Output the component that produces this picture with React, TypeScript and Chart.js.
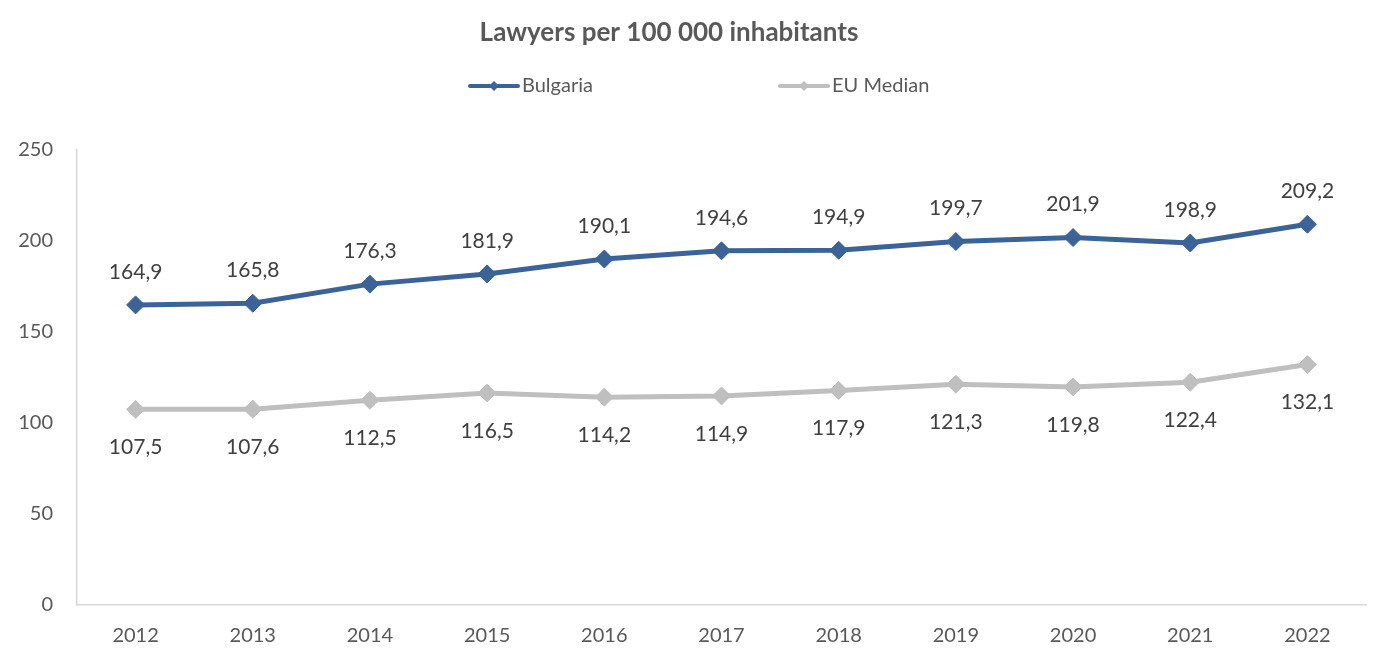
import React, { useEffect, useRef } from "react";
import { Chart, registerables } from "chart.js";

Chart.register(...registerables);

const years = ["2012", "2013", "2014", "2015", "2016", "2017", "2018", "2019", "2020", "2021", "2022"];
const bulgaria = [164.9, 165.8, 176.3, 181.9, 190.1, 194.6, 194.9, 199.7, 201.9, 198.9, 209.2];
const euMedian = [107.5, 107.6, 112.5, 116.5, 114.2, 114.9, 117.9, 121.3, 119.8, 122.4, 132.1];
const seriesNames = ["Bulgaria", "EU Median"];
const seriesColors = ["#3B6397", "#BFBFBF"];
const titleText = "Lawyers per 100 000 inhabitants";

const FONT = "Lato, 'Open Sans', sans-serif";
const fmt = (v: number) => v.toFixed(1).replace(".", ",");

const overlayPlugin = {
  id: "overlay",
  afterDatasetsDraw(chart: any) {
    const ctx = chart.ctx as CanvasRenderingContext2D;
    ctx.save();
    // data labels
    ctx.font = `21px ${FONT}`;
    ctx.fillStyle = "#404040";
    ctx.textAlign = "center";
    ctx.textBaseline = "middle";
    chart.data.datasets.forEach((ds: any, di: number) => {
      const meta = chart.getDatasetMeta(di);
      meta.data.forEach((pt: any, i: number) => {
        const v = ds.data[i] as number;
        const dy = di === 0 ? -33 : 38;
        ctx.fillText(fmt(v), pt.x, pt.y + dy);
      });
    });
    // title
    ctx.font = `bold 26px ${FONT}`;
    ctx.fillStyle = "#595959";
    ctx.fillText(titleText, 669, 33);
    // legend
    const items = [
      { x: 470, name: seriesNames[0], color: seriesColors[0] },
      { x: 780, name: seriesNames[1], color: seriesColors[1] },
    ];
    const ly = 86;
    items.forEach((it) => {
      ctx.strokeStyle = it.color;
      ctx.lineWidth = 4;
      ctx.lineCap = "round";
      ctx.beginPath();
      ctx.moveTo(it.x, ly);
      ctx.lineTo(it.x + 48, ly);
      ctx.stroke();
      ctx.fillStyle = it.color;
      ctx.beginPath();
      ctx.moveTo(it.x + 24, ly - 5);
      ctx.lineTo(it.x + 29, ly);
      ctx.lineTo(it.x + 24, ly + 5);
      ctx.lineTo(it.x + 19, ly);
      ctx.closePath();
      ctx.fill();
      ctx.font = `20px ${FONT}`;
      ctx.fillStyle = "#595959";
      ctx.textAlign = "left";
      ctx.fillText(it.name, it.x + 52, ly);
    });
    ctx.restore();
  },
};

export default function App() {
  const ref = useRef<HTMLCanvasElement | null>(null);
  useEffect(() => {
    if (!ref.current) return;
    const chart = new Chart(ref.current, {
      type: "line",
      data: {
        labels: years,
        datasets: [
          {
            label: seriesNames[0],
            data: bulgaria,
            borderColor: seriesColors[0],
            backgroundColor: seriesColors[0],
            borderWidth: 5,
            pointStyle: "rectRot",
            pointRadius: 9,
            pointBorderWidth: 1,
            tension: 0,
          },
          {
            label: seriesNames[1],
            data: euMedian,
            borderColor: seriesColors[1],
            backgroundColor: seriesColors[1],
            borderWidth: 5,
            pointStyle: "rectRot",
            pointRadius: 9,
            pointBorderWidth: 1,
            tension: 0,
          },
        ],
      },
      options: {
        animation: false,
        responsive: false,
        layout: { padding: { top: 150, left: 0, right: 8, bottom: 0 } },
        plugins: {
          legend: { display: false },
          title: { display: false },
          tooltip: { enabled: false },
        },
        scales: {
          x: {
            offset: true,
            grid: { display: false, drawTicks: false },
            border: { display: true, color: "#D9D9D9", width: 1.5 },
            ticks: { color: "#595959", font: { family: FONT, size: 20 }, padding: 19 },
            afterFit: (axis: any) => {
              axis.height = 43;
            },
          },
          y: {
            min: 0,
            max: 250,
            grid: { display: false, drawTicks: false },
            border: { display: true, color: "#D9D9D9", width: 1.5 },
            ticks: { stepSize: 50, color: "#595959", font: { family: FONT, size: 20 }, padding: 24 },
            afterFit: (axis: any) => {
              axis.width = 77;
            },
          },
        },
      },
      plugins: [overlayPlugin],
    });
    return () => chart.destroy();
  }, []);
  return (
    <canvas
      ref={ref}
      width={1376}
      height={648}
      style={{ display: "block", position: "fixed", left: 0, top: 0, background: "#fff" }}
    />
  );
}
